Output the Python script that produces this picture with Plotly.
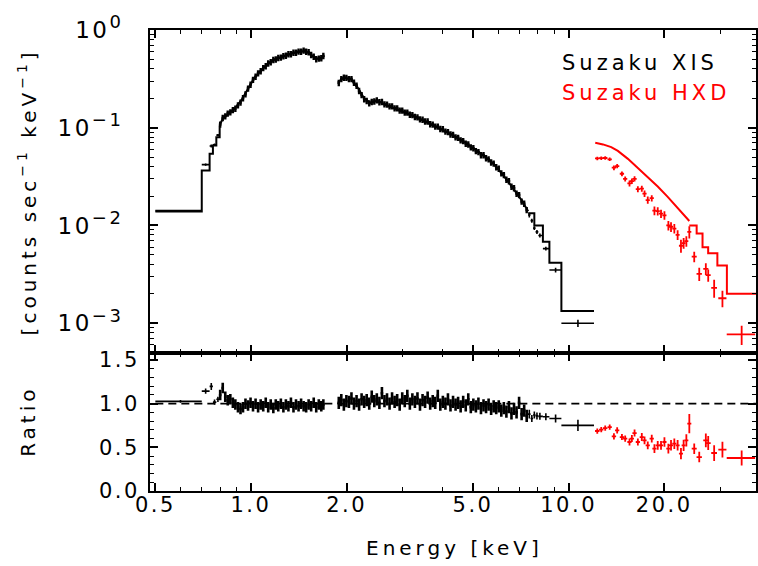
import math
import plotly.graph_objects as go

# ---------------- data ----------------
# XIS: low-energy sparse bins (keV)
xis_lo_e = [0.600, 0.720, 0.750, 0.768, 0.787]
xis_lo_emin = [0.500, 0.700, 0.741, 0.759, 0.778]
xis_lo_emax = [0.700, 0.741, 0.759, 0.778, 0.797]
xis_lo_counts = [0.0142, 0.0419, 0.0650, 0.0670, 0.0840]
xis_lo_ratio = [1.026, 1.144, 1.198, 1.018, 1.050]
xis_lo_rerr = [0.015, 0.03, 0.04, 0.03, 0.03]

# XIS: dense segment 1 (0.8 - 1.7 keV)
xis_s1_e = [0.800, 0.815, 0.830, 0.845, 0.861, 0.877, 0.893, 0.910, 0.927, 0.944,
            0.961, 0.979, 0.997, 1.015, 1.034, 1.053, 1.073, 1.093, 1.113, 1.133,
            1.154, 1.176, 1.197, 1.219, 1.242, 1.265, 1.288, 1.312, 1.336, 1.361,
            1.386, 1.412, 1.438, 1.465, 1.492, 1.519, 1.547, 1.576, 1.605, 1.635,
            1.665, 1.690]
xis_s1_counts = [0.108, 0.126, 0.131, 0.140, 0.144, 0.152, 0.157, 0.170, 0.181, 0.201,
                 0.220, 0.252, 0.276, 0.310, 0.333, 0.361, 0.379, 0.409, 0.427, 0.456,
                 0.469, 0.494, 0.500, 0.518, 0.523, 0.541, 0.546, 0.566, 0.567, 0.587,
                 0.586, 0.603, 0.601, 0.616, 0.600, 0.594, 0.556, 0.534, 0.504, 0.511,
                 0.515, 0.544]
xis_s1_ratio = [1.10, 1.18, 1.08, 1.04, 1.05, 1.01, 0.99, 0.96, 0.94, 0.96,
                1.00, 0.98, 1.01, 0.97, 1.00, 0.96, 0.99, 0.97, 1.01, 0.96,
                0.99, 0.95, 0.99, 0.97, 1.00, 0.96, 0.99, 0.97, 1.01, 0.96,
                0.99, 0.97, 1.00, 0.97, 0.96, 0.99, 0.97, 1.01, 0.96, 0.99,
                0.97, 0.99]

# XIS: dense segment 2 (1.9 - 7.4 keV)
xis_s2_e = [1.890, 1.925, 1.961, 1.997, 2.034, 2.072, 2.110, 2.150, 2.190, 2.230,
            2.272, 2.314, 2.357, 2.400, 2.445, 2.490, 2.537, 2.584, 2.632, 2.681,
            2.731, 2.781, 2.833, 2.886, 2.939, 2.994, 3.049, 3.106, 3.164, 3.222,
            3.282, 3.343, 3.405, 3.469, 3.533, 3.599, 3.666, 3.734, 3.803, 3.874,
            3.946, 4.019, 4.094, 4.170, 4.248, 4.327, 4.407, 4.489, 4.572, 4.657,
            4.744, 4.832, 4.922, 5.013, 5.106, 5.201, 5.298, 5.397, 5.497, 5.599,
            5.703, 5.809, 5.917, 6.027, 6.139, 6.254, 6.370, 6.488, 6.609, 6.732,
            6.857, 6.984, 7.114, 7.246, 7.380]
xis_s2_counts = [0.288, 0.315, 0.326, 0.325, 0.315, 0.315, 0.289, 0.270, 0.238, 0.216,
                 0.196, 0.188, 0.178, 0.184, 0.186, 0.191, 0.183, 0.184, 0.174, 0.173,
                 0.166, 0.166, 0.158, 0.158, 0.150, 0.150, 0.143, 0.143, 0.136, 0.135,
                 0.129, 0.128, 0.122, 0.121, 0.116, 0.116, 0.109, 0.108, 0.103, 0.103,
                 0.0972, 0.0968, 0.0915, 0.0905, 0.0855, 0.0848, 0.0798, 0.0790, 0.0744, 0.0731,
                 0.0688, 0.0676, 0.0632, 0.0619, 0.0578, 0.0565, 0.0525, 0.0524, 0.0488, 0.0476,
                 0.0442, 0.0431, 0.0395, 0.0381, 0.0342, 0.0328, 0.0294, 0.0284, 0.0250, 0.0241,
                 0.0212, 0.0205, 0.0176, 0.0167, 0.0144]
xis_s2_ratio = [1.01, 1.04, 0.99, 1.03, 1.02, 1.06, 1.00, 1.03, 0.99, 1.05,
                1.02, 1.04, 1.00, 1.08, 1.03, 1.05, 1.01, 1.12, 1.03, 1.05,
                1.00, 1.06, 1.02, 1.04, 0.99, 1.06, 1.03, 1.09, 1.00, 1.05,
                1.02, 1.06, 0.99, 1.04, 1.02, 1.07, 1.00, 1.03, 1.01, 1.09,
                0.99, 1.02, 1.00, 1.05, 0.98, 1.02, 0.99, 1.01, 0.97, 1.02,
                0.98, 1.05, 0.96, 0.99, 0.97, 1.00, 0.95, 0.98, 0.96, 0.99,
                0.94, 0.97, 0.95, 0.97, 0.92, 0.95, 0.91, 0.96, 0.89, 0.94,
                0.90, 1.01, 0.88, 0.92, 0.86]

xis_bin_half = 0.0093      # fractional half width of the dense bins
xis_rel_err = 0.075        # relative count error in the dense bins
xis_s1_rerr = 0.06         # ratio error, segment 1
xis_s2_rerr = 0.07         # ratio error, segment 2

# XIS: high-energy sparse bins
xis_hi_e = [7.52, 7.66, 7.80, 7.95, 8.12, 8.48, 9.10, 10.70]
xis_hi_emin = [7.45, 7.59, 7.73, 7.87, 8.03, 8.30, 8.70, 9.49]
xis_hi_emax = [7.59, 7.73, 7.87, 8.03, 8.30, 8.70, 9.49, 12.02]
xis_hi_counts = [0.0128, 0.0112, 0.0094, 0.0086, 0.0079, 0.0058, 0.0035, 0.00100]
xis_hi_ratio = [0.88, 0.83, 0.87, 0.86, 0.855, 0.85, 0.83, 0.752]
xis_hi_rerr = [0.05, 0.04, 0.04, 0.04, 0.04, 0.04, 0.045, 0.065]

# XIS model
xis_mod_lo_e = [0.50, 0.700, 0.741, 0.759, 0.778, 0.797]
xis_mod_lo_v = [0.0139, 0.0366, 0.0542, 0.0659, 0.0801, 0.1056]
xis_mod_s1_e = [0.797, 0.816, 0.846, 0.888, 0.932, 0.977, 1.026, 1.076, 1.129, 1.185,
                1.244, 1.304, 1.369, 1.437, 1.489, 1.544, 1.601, 1.660, 1.700]
xis_mod_s1_v = [0.1056, 0.125, 0.137, 0.156, 0.190, 0.250, 0.325, 0.385, 0.451, 0.499,
                0.527, 0.558, 0.585, 0.603, 0.603, 0.558, 0.508, 0.515, 0.540]
xis_mod_s2_e = [1.88, 1.964, 2.011, 2.062, 2.162, 2.269, 2.381, 2.497, 2.685, 2.957,
                3.334, 3.760, 4.243, 4.782, 5.395, 5.800, 6.232, 6.699, 7.112, 7.46]
xis_mod_s2_v = [0.2925, 0.329, 0.317, 0.317, 0.261, 0.2017, 0.1793, 0.190, 0.169, 0.150,
                0.1265, 0.1056, 0.0868, 0.0686, 0.0521, 0.0428, 0.0325, 0.0238, 0.0181, 0.0140]
xis_mod_hi_e = [7.46, 7.80, 8.30, 8.70, 9.49, 12.02]
xis_mod_hi_v = [0.0133, 0.0100, 0.0068, 0.00415, 0.00133, 0.00133]

# HXD data
hxd_e = [12.31, 12.67, 13.04, 13.47, 13.89, 14.22, 14.72, 15.07, 15.55, 15.82,
         16.13, 16.52, 17.00, 17.34, 17.75, 18.27, 18.63, 19.08, 19.54, 20.03,
         20.61, 21.01, 21.52, 22.04, 22.58, 23.02, 23.48, 23.99, 24.86, 25.78,
         27.04, 27.51, 28.72, 30.50, 35.06]
hxd_de = [0.20, 0.20, 0.21, 0.21, 0.22, 0.22, 0.23, 0.23, 0.24, 0.24,
          0.25, 0.25, 0.26, 0.26, 0.27, 0.28, 0.28, 0.29, 0.29, 0.30,
          0.31, 0.31, 0.32, 0.32, 0.33, 0.33, 0.34, 0.35, 0.45, 0.50,
          0.50, 0.50, 0.60, 0.90, 3.60]
hxd_counts = [0.0485, 0.0488, 0.0490, 0.0475, 0.0390, 0.0405, 0.0338, 0.0300, 0.0270, 0.0284,
              0.0300, 0.0235, 0.0238, 0.0212, 0.0182, 0.0190, 0.0142, 0.0140, 0.0132, 0.0127,
              0.0100, 0.0097, 0.0093, 0.0080, 0.0062, 0.0066, 0.0069, 0.0086, 0.0048, 0.0032,
              0.0036, 0.0031, 0.0023, 0.00180, 0.00077]
hxd_ratio = [0.687, 0.702, 0.721, 0.732, 0.626, 0.694, 0.618, 0.600, 0.561, 0.600,
             0.664, 0.561, 0.618, 0.580, 0.523, 0.600, 0.485, 0.523, 0.523, 0.561,
             0.485, 0.523, 0.542, 0.523, 0.428, 0.523, 0.580, 0.771, 0.485, 0.389,
             0.580, 0.549, 0.435, 0.474, 0.378]
hxd_rerr = [0.03, 0.03, 0.03, 0.03, 0.035, 0.035, 0.035, 0.035, 0.04, 0.04,
            0.04, 0.04, 0.045, 0.045, 0.045, 0.045, 0.05, 0.05, 0.05, 0.055,
            0.055, 0.06, 0.06, 0.06, 0.065, 0.065, 0.07, 0.11, 0.06, 0.06,
            0.08, 0.08, 0.09, 0.09, 0.085]

# HXD model
hxd_mod_curve_e = [12.13, 12.83, 13.62, 14.29, 15.37, 16.52, 17.75, 19.08, 20.51, 22.04, 23.99]
hxd_mod_curve_v = [0.0702, 0.0675, 0.0633, 0.0579, 0.0480, 0.0388, 0.0312, 0.0250, 0.0196,
                   0.0152, 0.0111]
hxd_mod_step_e = [23.99, 25.3, 26.4, 27.5, 29.4, 31.5, 40.0]
hxd_mod_step_v = [0.0100, 0.00825, 0.0060, 0.0052, 0.0039, 0.0020, 0.0020]

# unity line in ratio panel
unity_e = [0.5, 40.0]
unity_v = [1.0, 1.0]

# axes
x_range_kev = [0.481, 38.9]
y_top_range = [5e-4, 1.0]
y_bot_range = [0.0, 1.585]
x_tick_vals = [0.5, 1.0, 2.0, 5.0, 10.0, 20.0]
x_tick_text = ["0.5", "1.0", "2.0", "5.0", "10.0", "20.0"]
x_minor_vals = [0.6, 0.7, 0.8, 0.9, 3, 4, 6, 7, 8, 9, 30]
y_top_tick_vals = [1e-3, 1e-2, 1e-1, 1.0]
y_top_exponents = ["\u22123", "\u22122", "\u22121", "0"]
y_bot_tick_vals = [0.0, 0.5, 1.0, 1.5]
y_bot_tick_text = ["0.0", "0.5", "1.0", "1.5"]

# ---------------- figure ----------------
BLACK = "black"
RED = "#ff0000"
FONT = "DejaVu Sans"

fig = go.Figure()


def add_points(e, val, xm, xp, yerr, color, xa, ya, lw=1.6):
    fig.add_trace(go.Scatter(
        x=e, y=val, mode="markers", xaxis=xa, yaxis=ya,
        marker=dict(size=1, color=color),
        error_x=dict(type="data", symmetric=False, array=xp, arrayminus=xm,
                     color=color, thickness=lw, width=0),
        error_y=dict(type="data", array=yerr, color=color, thickness=lw, width=0),
        showlegend=False, hoverinfo="skip"))


# --- top panel: models ---
for e, v, shape in [(xis_mod_lo_e, xis_mod_lo_v, "hv"), (xis_mod_s1_e, xis_mod_s1_v, "linear"),
                    (xis_mod_s2_e, xis_mod_s2_v, "linear"), (xis_mod_hi_e, xis_mod_hi_v, "hv")]:
    fig.add_trace(go.Scatter(x=e, y=v, mode="lines", line=dict(color=BLACK, width=2, shape=shape),
                             xaxis="x", yaxis="y", showlegend=False, hoverinfo="skip"))
for e, v, shape in [(hxd_mod_curve_e, hxd_mod_curve_v, "linear"), (hxd_mod_step_e, hxd_mod_step_v, "hv")]:
    fig.add_trace(go.Scatter(x=e, y=v, mode="lines", line=dict(color=RED, width=2, shape=shape),
                             xaxis="x", yaxis="y", showlegend=False, hoverinfo="skip"))

# --- top panel: data ---
add_points(xis_lo_e, xis_lo_counts,
           [a - b for a, b in zip(xis_lo_e, xis_lo_emin)], [b - a for a, b in zip(xis_lo_e, xis_lo_emax)],
           [c * r / q for c, r, q in zip(xis_lo_counts, xis_lo_rerr, xis_lo_ratio)], BLACK, "x", "y")
for e, c in [(xis_s1_e, xis_s1_counts), (xis_s2_e, xis_s2_counts)]:
    dx = [v * xis_bin_half for v in e]
    add_points(e, c, dx, dx, [v * xis_rel_err for v in c], BLACK, "x", "y", lw=2.4)
add_points(xis_hi_e, xis_hi_counts,
           [a - b for a, b in zip(xis_hi_e, xis_hi_emin)], [b - a for a, b in zip(xis_hi_e, xis_hi_emax)],
           [c * r / q for c, r, q in zip(xis_hi_counts, xis_hi_rerr, xis_hi_ratio)], BLACK, "x", "y")
add_points(hxd_e, hxd_counts, hxd_de, hxd_de,
           [c * r / q for c, r, q in zip(hxd_counts, hxd_rerr, hxd_ratio)], RED, "x", "y", lw=1.8)

# --- bottom panel ---
fig.add_trace(go.Scatter(x=unity_e, y=unity_v, mode="lines", xaxis="x2", yaxis="y2",
                         line=dict(color=BLACK, width=1.8, dash="8px,5px"),
                         showlegend=False, hoverinfo="skip"))
add_points(xis_lo_e, xis_lo_ratio,
           [a - b for a, b in zip(xis_lo_e, xis_lo_emin)], [b - a for a, b in zip(xis_lo_e, xis_lo_emax)],
           xis_lo_rerr, BLACK, "x2", "y2")
for e, r, er in [(xis_s1_e, xis_s1_ratio, xis_s1_rerr), (xis_s2_e, xis_s2_ratio, xis_s2_rerr)]:
    dx = [v * xis_bin_half for v in e]
    add_points(e, r, dx, dx, [er] * len(e), BLACK, "x2", "y2", lw=2.6)
add_points(xis_hi_e, xis_hi_ratio,
           [a - b for a, b in zip(xis_hi_e, xis_hi_emin)], [b - a for a, b in zip(xis_hi_e, xis_hi_emax)],
           xis_hi_rerr, BLACK, "x2", "y2")
add_points(hxd_e, hxd_ratio, hxd_de, hxd_de, hxd_rerr, RED, "x2", "y2", lw=1.8)

# --- axes ---
xr = [math.log10(x_range_kev[0]), math.log10(x_range_kev[1])]
y_top_minor = [m * 10.0 ** k for k in (-4, -3, -2, -1) for m in range(2, 10)
               if y_top_range[0] <= m * 10.0 ** k <= y_top_range[1]]
y_bot_minor = [i / 10 for i in range(0, 16) if i % 5 != 0]
y_top_tick_text = ['10<sup><span style="font-size:18px">%s</span></sup>' % p for p in y_top_exponents]
SPLIT = 0.3002

common = dict(showline=True, linecolor=BLACK, linewidth=2, mirror="allticks", ticks="inside",
              ticklen=8, tickwidth=1.6, tickcolor=BLACK, showgrid=False, zeroline=False,
              tickfont=dict(family=FONT, size=21, color=BLACK))
minor_common = dict(ticks="inside", ticklen=4, tickwidth=1.4, tickcolor=BLACK, showgrid=False)

fig.update_layout(
    width=758, height=566,
    margin=dict(l=150, r=0, t=30, b=75),
    paper_bgcolor="white", plot_bgcolor="white",
    font=dict(family=FONT, color=BLACK),
    xaxis=dict(common, domain=[0, 1], anchor="y", type="log", range=xr,
               tickmode="array", tickvals=x_tick_vals, showticklabels=False,
               minor=dict(minor_common, tickmode="array", tickvals=x_minor_vals)),
    yaxis=dict(common, domain=[SPLIT, 1], anchor="x", type="log",
               range=[math.log10(y_top_range[0]), math.log10(y_top_range[1])],
               tickmode="array", tickvals=y_top_tick_vals, ticktext=y_top_tick_text,
               tickfont=dict(family=FONT, size=23, color=BLACK),
               ticklabelstandoff=20,
               minor=dict(minor_common, tickmode="array", tickvals=y_top_minor)),
    xaxis2=dict(common, domain=[0, 1], anchor="y2", type="log", range=xr,
                tickmode="array", tickvals=x_tick_vals, ticktext=x_tick_text,
                minor=dict(minor_common, tickmode="array", tickvals=x_minor_vals)),
    yaxis2=dict(common, domain=[0, SPLIT], anchor="x2", range=y_bot_range,
                tickmode="array", tickvals=y_bot_tick_vals, ticktext=y_bot_tick_text,
                ticklabelstandoff=4,
                minor=dict(minor_common, tickmode="array", tickvals=y_bot_minor)),
    annotations=[
        dict(text="Energy [keV]", xref="paper", yref="paper", x=0.5033, y=-0.1236,
             xanchor="center", yanchor="middle", showarrow=False,
             font=dict(family=FONT, size=20, color=BLACK)),
        dict(text="Ratio", xref="paper", yref="paper", x=-0.2007, y=0.1508, textangle=-90,
             xanchor="center", yanchor="middle", showarrow=False,
             font=dict(family=FONT, size=20, color=BLACK)),
        dict(text="[counts sec<sup>\u22121</sup> keV<sup>\u22121</sup>]", xref="paper", yref="paper",
             x=-0.2015, y=0.6497, textangle=-90, xanchor="center", yanchor="middle",
             showarrow=False, font=dict(family=FONT, size=20, color=BLACK)),
        dict(text="Suzaku XIS", xref="paper", yref="paper", x=0.710, y=0.9278,
             xanchor="left", yanchor="middle", showarrow=False,
             font=dict(family=FONT, size=21, color=BLACK)),
        dict(text="Suzaku HXD", xref="paper", yref="paper", x=0.710, y=0.8627,
             xanchor="left", yanchor="middle", showarrow=False,
             font=dict(family=FONT, size=21, color=RED)),
    ],
)

post = """
var gd = document.getElementById('{plot_id}');
gd.querySelectorAll('g.xtick text, g.x2tick text, g.ytick text, g.y2tick text').forEach(function(t){ t.style.letterSpacing = '2.5px'; });
gd.querySelectorAll('g.x2tick').forEach(function(g){ g.setAttribute('transform', 'translate(0,-6)'); });
gd.querySelectorAll('g.annotation text').forEach(function(t){ t.style.letterSpacing = '4px'; });
"""

fig.write_html("out.html", config={"displayModeBar": False}, post_script=post)
